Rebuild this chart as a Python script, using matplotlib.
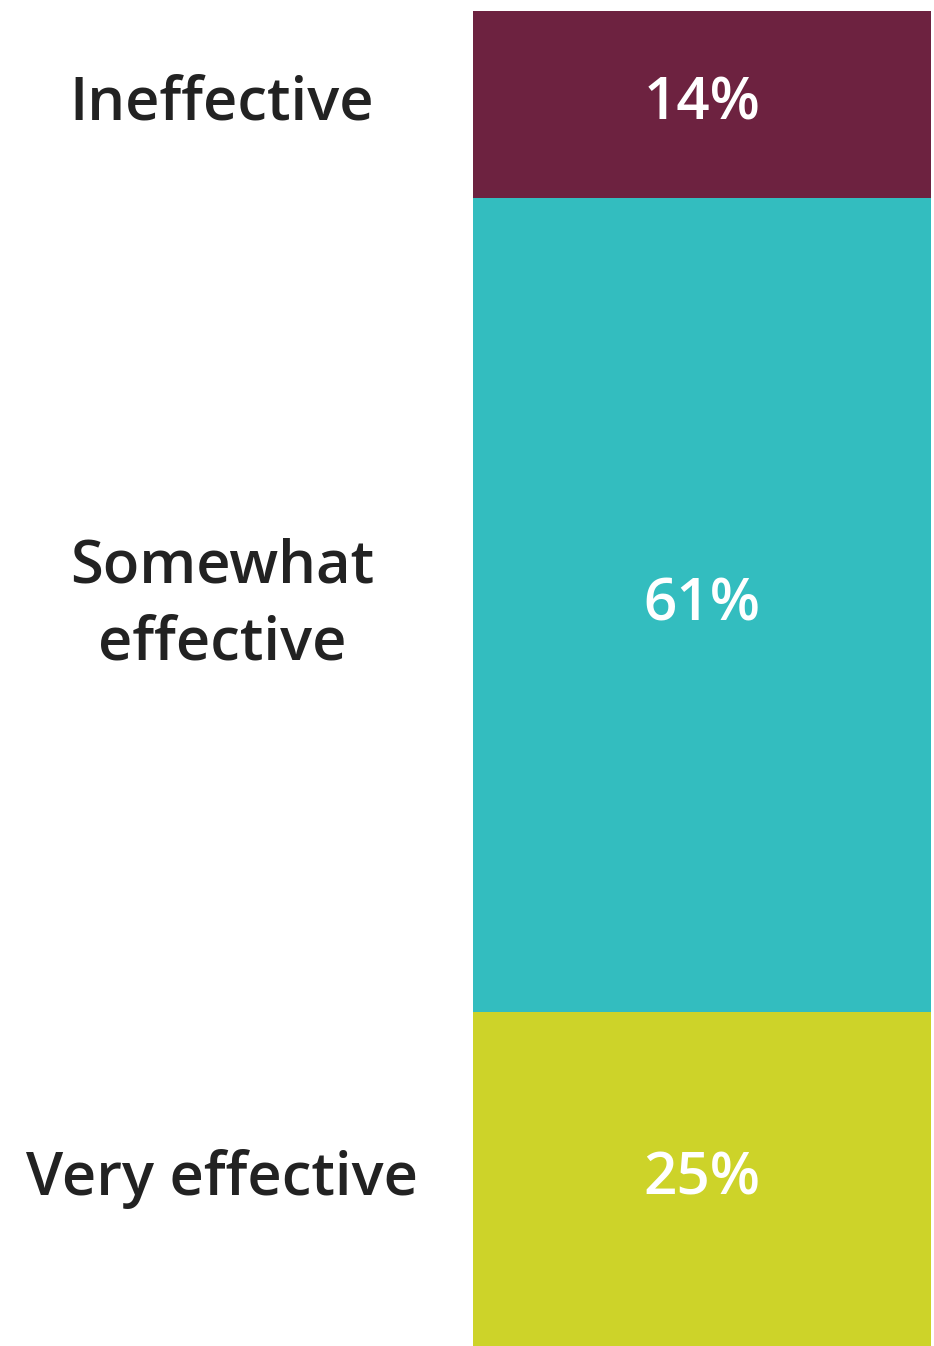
import matplotlib
matplotlib.use('Agg')
import matplotlib.pyplot as plt
import matplotlib.transforms as mtransforms

plt.rcParams['font.family'] = ['Open Sans', 'DejaVu Sans']

# single stacked bar, top to bottom
categorias = ['Ineffective', 'Somewhat\neffective', 'Very effective']
valores = [14, 61, 25]
cores = ['#6D2240', '#33BDBF', '#CDD329']

fig = plt.figure(figsize=(9.34, 13.46), dpi=100)
ax = fig.add_axes([473 / 934, 0, 458 / 934, 1 - 11 / 1346])

base = 0
centros = []
for v, c in zip(valores, cores):
    ax.bar(0, v, bottom=base, width=1, color=c, edgecolor='none')
    centros.append(base + v / 2)
    base += v

ax.set_xlim(-0.5, 0.5)
ax.set_ylim(sum(valores), 0)
ax.axis('off')

trans = mtransforms.blended_transform_factory(ax.transAxes, ax.transData)
for cat, v, y in zip(categorias, valores, centros):
    ax.text(0.5, y, f'{v}%', transform=trans, ha='center', va='center',
            color='white', fontsize=42, fontweight='semibold')
    ax.text(-0.548, y, cat, transform=trans, ha='center', va='center',
            color='#222222', fontsize=43, fontweight='semibold',
            linespacing=1.4, clip_on=False)

fig.savefig('out.png', dpi=100)
